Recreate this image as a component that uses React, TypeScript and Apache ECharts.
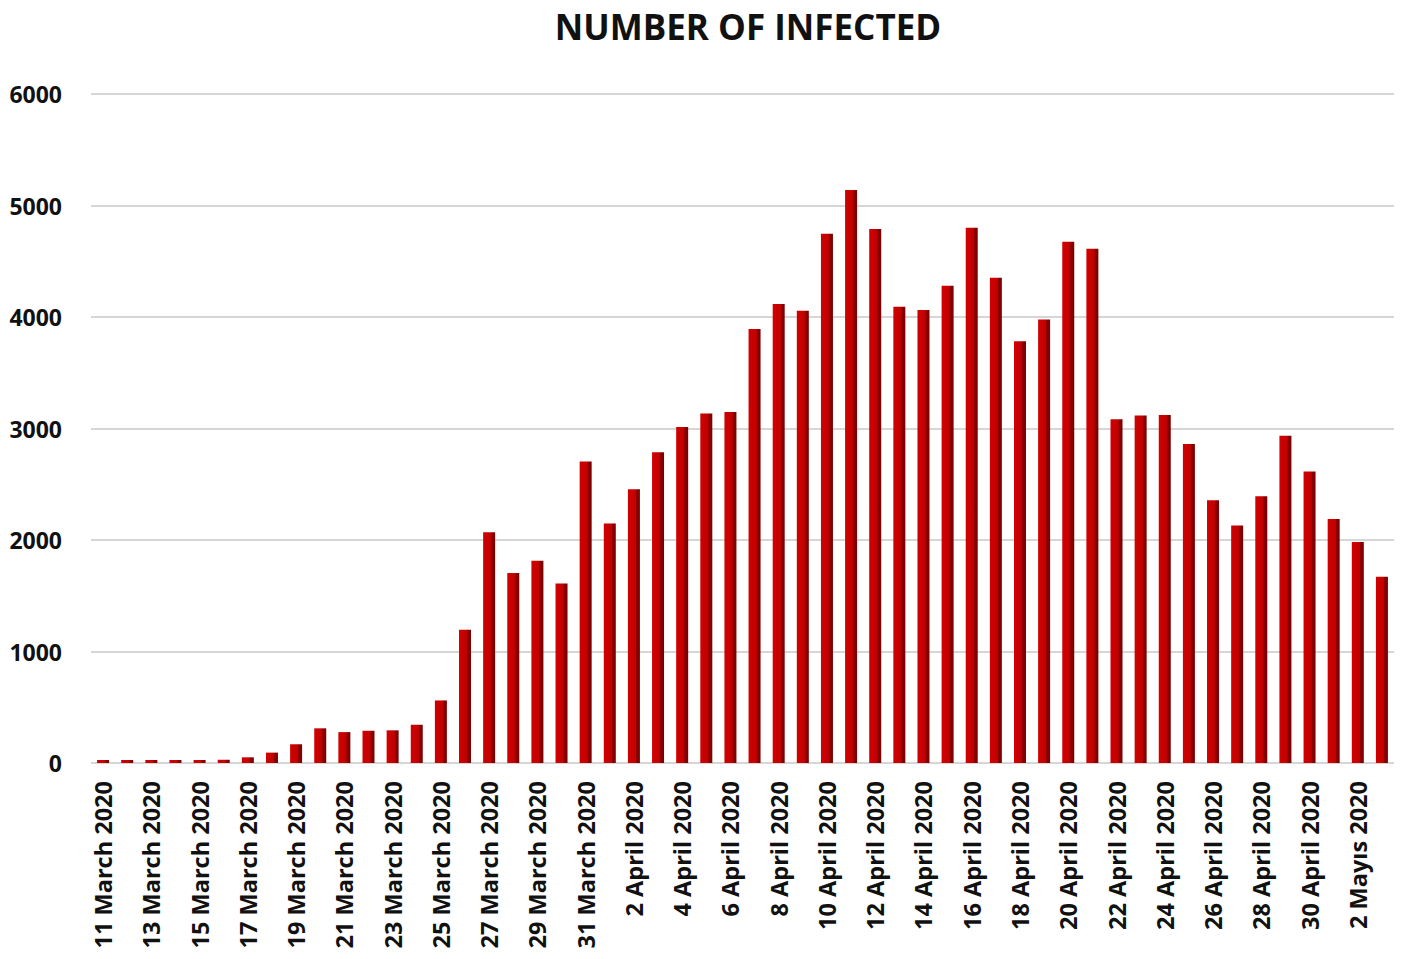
import React, { useEffect, useRef } from "react";
import * as echarts from "echarts";

const titleText = "NUMBER OF INFECTED";

const marchDays = Array.from({ length: 21 }, (_, i) => `${11 + i} March 2020`);
const aprilDays = Array.from({ length: 30 }, (_, i) => `${1 + i} April 2020`);
const mayDays = ["1 Mayıs 2020", "2 Mayıs 2020", "3 Mayıs 2020"];
const categories = [...marchDays, ...aprilDays, ...mayDays];

const infected = [
  1, 0, 4, 1, 12, 29, 51, 93, 168, 311, 277, 289, 293, 343, 561, 1196, 2069, 1704, 1815, 1610, 2704,
  2148, 2456, 2786, 3013, 3135, 3148, 3892, 4117, 4056, 4747, 5138, 4789, 4093, 4062, 4281, 4801, 4353,
  3783, 3977, 4674, 4611, 3083, 3116, 3122, 2861, 2357, 2131, 2392, 2936, 2615,
  2188, 1983, 1670,
];

const yMin = 0;
const yMax = 6000;
const yInterval = 1000;

export default function App() {
  const ref = useRef<HTMLDivElement>(null);
  useEffect(() => {
    if (!ref.current) return;
    const chart = echarts.init(ref.current, null, { renderer: "svg" });
    const font = "'Open Sans', 'Noto Sans', sans-serif";
    chart.setOption({
      animation: false,
      backgroundColor: "#ffffff",
      title: {
        text: titleText,
        left: 748,
        textAlign: "center",
        top: 8,
        padding: 0,
        textStyle: { fontFamily: font, fontWeight: "bold", fontSize: 35, lineHeight: 36, color: "#111111" },
      },
      grid: { left: 91, right: 17, top: 94, bottom: 196, containLabel: false },
      xAxis: {
        type: "category",
        data: categories,
        axisLine: { show: false },
        axisTick: { show: false },
        axisLabel: {
          interval: 1,
          rotate: 90,
          margin: 18,
          fontFamily: font,
          fontWeight: "bold",
          fontSize: 23.5,
          color: "#111111",
        },
      },
      yAxis: {
        type: "value",
        min: yMin,
        max: yMax,
        interval: yInterval,
        axisLine: { show: false },
        axisTick: { show: false },
        axisLabel: {
          margin: 29,
          fontFamily: font,
          fontWeight: "bold",
          fontSize: 23,
          color: "#111111",
          formatter: (v: number) => String(v),
        },
        splitLine: { lineStyle: { color: "#d6d6d6", width: 2 } },
      },
      series: [
        {
          type: "bar",
          data: infected,
          barWidth: 12,
          barMinHeight: 3,
          itemStyle: {
            color: new echarts.graphic.LinearGradient(0, 0, 1, 0, [
              { offset: 0, color: "#d10000" },
              { offset: 0.65, color: "#c00000" },
              { offset: 0.7, color: "#8e0000" },
              { offset: 1, color: "#7a0000" },
            ]),
          },
        },
      ],
    });
    return () => chart.dispose();
  }, []);
  return (
    <div
      ref={ref}
      style={{ position: "absolute", left: 0, top: 0, width: 1411, height: 959 }}
    />
  );
}
